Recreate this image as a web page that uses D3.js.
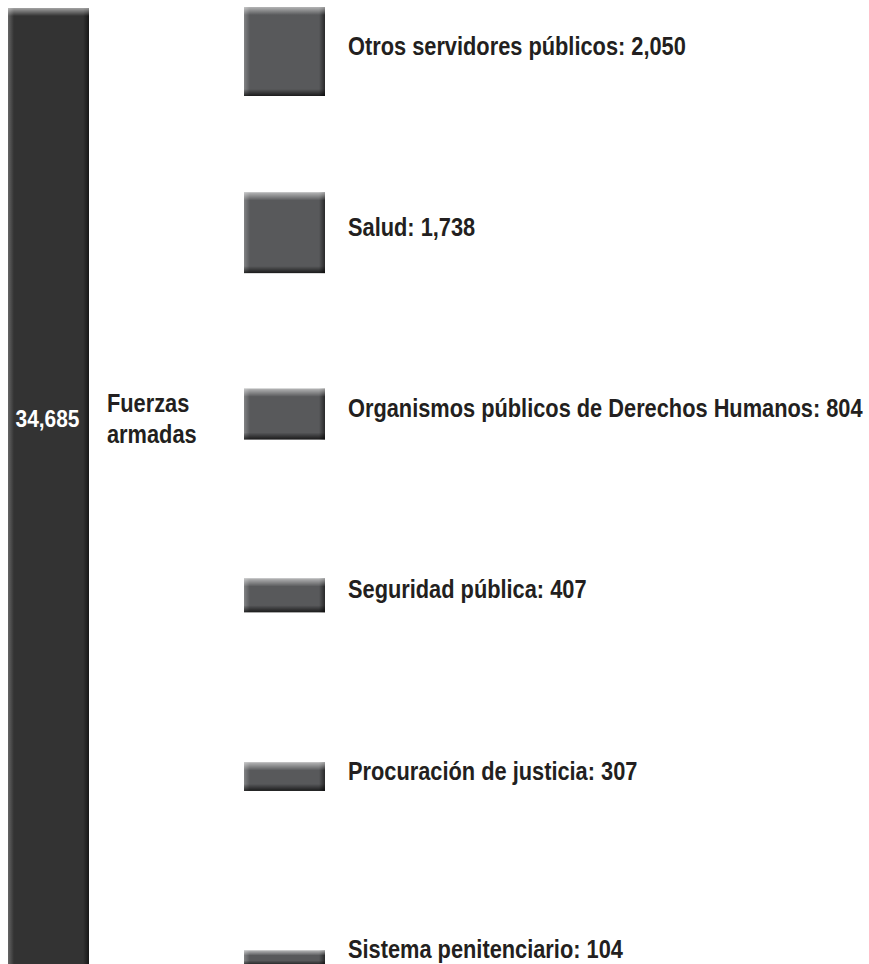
<!DOCTYPE html>
<html>
<head>
<meta charset="utf-8">
<script src="https://d3js.org/d3.v7.min.js"></script>
<style>
    body { margin: 0; background: #fff; }
    svg text { font-family: "Liberation Sans", Arial, sans-serif; font-weight: bold; }
</style>
</head>
<body>
<div id="chart"></div>
<script>
//Datos
const CATEGORIAS = ['Otros servidores públicos', 'Salud', 'Organismos públicos de Derechos Humanos', 'Seguridad pública', 'Procuración de justicia', 'Sistema penitenciario'];
const VALORES = [2050, 1738, 804, 407, 307, 104];
const TOTAL_ETIQUETA = ['Fuerzas', 'armadas'];
const TOTAL_VALOR = 34685;

//Colores fijos
const COLOR_TOTAL = '#333333',
COLOR_BARRA = '#58595b',
COLOR_TEXTO = '#231f20';

let width = 869,
    height = 964;

let fmt = d3.format(',');

let svg = d3.select('#chart')
    .append('svg')
        .attr('width', width)
        .attr('height', height);

//Degradados para el biselado
let defs = svg.append('defs');
function gradiente(id, x2, y2, color, a0, a1) {
    let g = defs.append('linearGradient')
        .attr('id', id)
        .attr('x1', 0).attr('y1', 0)
        .attr('x2', x2).attr('y2', y2);
    g.append('stop').attr('offset', '0%').attr('stop-color', color).attr('stop-opacity', a0);
    g.append('stop').attr('offset', '100%').attr('stop-color', color).attr('stop-opacity', a1);
}
gradiente('bisel-top', 0, 1, '#fff', 0.55, 0);
gradiente('bisel-left', 1, 0, '#fff', 0.25, 0);
gradiente('bisel-right', 1, 0, '#000', 0, 0.55);
gradiente('bisel-bottom', 0, 1, '#000', 0, 0.7);

function barra(g, x, y, w, h, color, conFondo) {
    let top = Math.min(8, h / 3),
        bot = Math.min(7, h / 3),
        side = 6;
    g.append('rect').attr('x', x).attr('y', y).attr('width', w).attr('height', h).attr('fill', color);
    g.append('rect').attr('x', x).attr('y', y).attr('width', side).attr('height', h).attr('fill', 'url(#bisel-left)');
    g.append('rect').attr('x', x + w - side).attr('y', y).attr('width', side).attr('height', h).attr('fill', 'url(#bisel-right)');
    g.append('rect').attr('x', x).attr('y', y).attr('width', w).attr('height', top).attr('fill', 'url(#bisel-top)');
    if (conFondo) {
        g.append('rect').attr('x', x).attr('y', y + h - bot).attr('width', w).attr('height', bot).attr('fill', 'url(#bisel-bottom)');
    }
}

//Texto estrecho (condensado) con transform
let xTexto = 348;
function texto(g, x, y, size, color, t) {
    return g.append('text')
        .attr('transform', 'translate(' + x + ',' + y + ')')
        .attr('fill', color)
        .style('font-size', size + 'px')
        .text(t);
}

//Barra total (fuerzas armadas)
let xTotal = 8, anchoBarra = 81;
let yTotal = d3.scaleLinear()
    .domain([0, TOTAL_VALOR])
    .range([0, 962]);

let gTotal = svg.append('g');
barra(gTotal, xTotal, 8, anchoBarra, yTotal(TOTAL_VALOR), COLOR_TOTAL, false);

//Barras por sector
let xBarra = 244;
let yPos = d3.scalePoint()
    .domain(CATEGORIAS)
    .range([52.5, 959]);

let hScale = d3.scalePow()
    .exponent(0.6)
    .domain([0, d3.max(VALORES)])
    .range([0, 89]);

let datos = CATEGORIAS.map(function(c, i) { return { cat: c, valor: VALORES[i] }; });

let grupos = svg.selectAll('g.sector')
    .data(datos)
    .enter()
    .append('g')
    .attr('class', 'sector');

grupos.each(function(d) {
    let h = hScale(d.valor);
    barra(d3.select(this), xBarra, yPos(d.cat) - h / 2 - 1, anchoBarra, h, COLOR_BARRA, true);
});

//Etiquetas (la última se sube un poco para que no se corte el descendente)
let etiquetas = [];
grupos.each(function(d) {
    let y = Math.min(yPos(d.cat) + 2, height - 6);
    etiquetas.push(texto(d3.select(this), xTexto, y, 25, COLOR_TEXTO, d.cat + ': ' + fmt(d.valor)));
});

//Factor de condensado: la etiqueta más larga ocupa hasta el borde
let maxLen = d3.max(etiquetas, function(t) { return t.node().getComputedTextLength(); });
let k = (width - 6 - xTexto) / maxLen;

etiquetas.forEach(function(t) {
    t.attr('transform', t.attr('transform') + ' scale(' + k + ',1)');
});

let tNum = texto(gTotal, xTotal + anchoBarra / 2 - 1, 427, 24, '#fff', fmt(TOTAL_VALOR))
    .attr('text-anchor', 'middle');
tNum.attr('transform', tNum.attr('transform') + ' scale(' + k + ',1)');

TOTAL_ETIQUETA.forEach(function(l, i) {
    let t = texto(gTotal, 107, 412 + i * 31, 25, COLOR_TEXTO, l);
    t.attr('transform', t.attr('transform') + ' scale(' + k + ',1)');
});
</script>
</body>
</html>
